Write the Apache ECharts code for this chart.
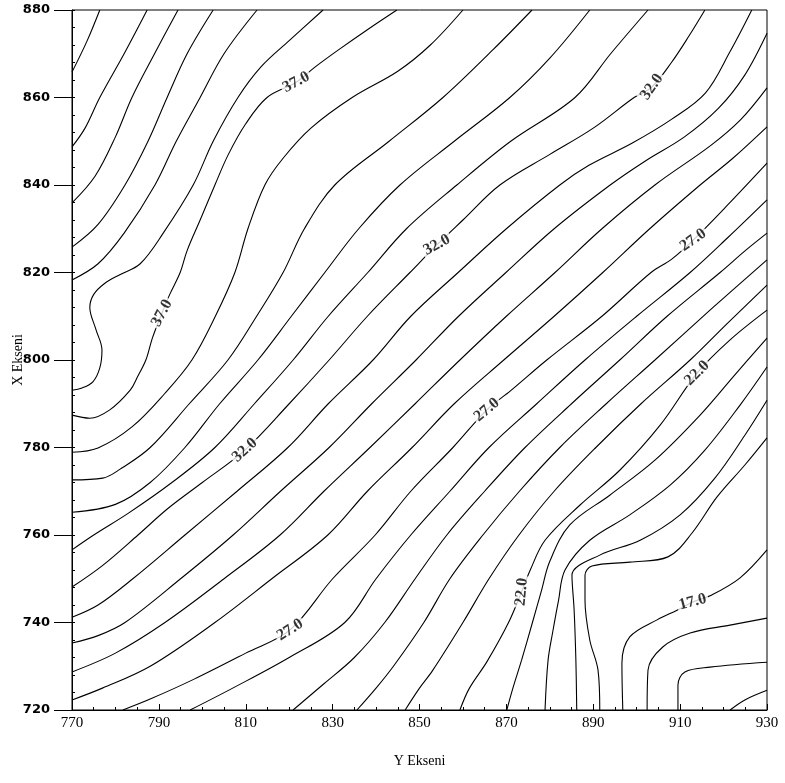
<!DOCTYPE html>
<html>
<head>
<meta charset="utf-8">
<script src="https://cdn.jsdelivr.net/npm/echarts@6/dist/echarts.min.js"></script>
<style>
  html, body { margin: 0; padding: 0; background: #ffffff; }
  #chart { width: 785px; height: 783px; }
</style>
</head>
<body>
<div id="chart"></div>
<script>
// Axis ranges (horizontal = "Y Ekseni", vertical = "X Ekseni")
const yEkseniRange = [770, 930];
const xEkseniRange = [720, 880];

// Contour polylines, one per level, as [Y Ekseni, X Ekseni] pairs
const c43 = [[776.4,880],[773.5,873],[770,865.8]];
const c42 = [[787.3,880],[782,870],[776.4,860],[773,853],[770,848.7]];
const c41 = [[794.4,880],[789,870],[783.8,860],[780,851],[775.3,842],[770,835.9]];
const c40 = [[802.5,880],[796.5,870],[791.9,860],[787.5,850],[782.2,840],[776,831],[770,825.8]];
const c39 = [[812.6,880],[805,870],[799.5,860],[794,850],[789.1,840],[782,829],[776,822],[770,818.3]];
const c38 = [[827.8,880],[820,873],[813.5,867],[808.2,860],[802.5,850],[797.9,840],[791,829],[785.7,822],[781,819.5],[777.5,817.5],[775,815],[774.1,812],[775.5,807],[776.9,802.3],[776.4,798.2],[774.8,795],[772.3,793.6],[770,793.1]];
const c37 = [[844.8,880],[838,875.5],[831.5,871],[826,867],[821.6,863.5],[814.9,860],[810,854],[806,847],[802.9,840],[799.5,832],[796.5,825],[794.9,820],[792.5,815],[790.7,810.7],[788.5,805],[787,800],[785,796],[783.4,793.1],[778.7,788.6],[774.1,786.7],[770,787.4]];
const c36 = [[860,880],[852.5,872],[845,866],[834.5,860],[825,853],[818.5,846],[814.4,840],[810.5,830],[807.5,820],[803,810],[797.6,800],[791.4,792.4],[783.8,784.7],[776,779.9],[770,778.9]];
const c35 = [[875.9,880],[867,871],[855.4,860],[843,850],[830.5,840],[823.5,830],[818.6,820],[812.5,810],[805.9,800],[797,790],[788,780],[781,775],[777.1,773],[770,772.6]];
const c34 = [[889.2,880],[880,869],[870.8,860],[858,850],[845.5,840],[836,830],[828.2,820],[820.5,810],[812.8,800],[804,790],[796,780],[788,772],[780,767],[770,765.2]];
const c33 = [[902.6,880],[894,870],[885.8,860],[871,850],[858.6,840],[847,830],[838.1,820],[829,810],[820.9,800],[812,790],[802.9,780],[793,772],[783,765],[775,760],[770,756.6]];
const c32 = [[915.7,880],[912,874],[908,868],[903.5,862.4],[899.4,860],[890,853],[880,847],[868.5,840],[860,832],[854,826.3],[847.8,820],[838,810],[829.2,800],[820,790],[809.8,779.4],[800,772],[792,766],[785.2,760],[777,753],[770,748.1]];
const c31 = [[926.5,880],[921.5,870.5],[915.8,861],[908,855],[899,849.6],[889,844.5],[882.3,840],[870,830],[858.9,820],[848,810],[839.3,800],[829,790],[819.7,780],[808,770],[796,760],[784,750],[776,744],[770,741.2]];
const c30 = [[930,874.7],[924.8,865],[918.8,857.5],[911,851],[902,845.5],[893.9,840],[881,830],[869.9,820],[859,810],[849.2,800],[839,790],[829.2,780],[818,770],[807.1,760],[795,750],[782.2,740],[776,737],[770,735.3]];
const c29 = [[930,862.2],[924,855],[917,849],[904.2,840],[892,830],[881.2,820],[870,810],[859.3,800],[849,790],[838.6,780],[828,770],[817.9,760],[805,750],[791.4,740],[780,733],[770,728.7]];
const c28 = [[930,853.3],[922,846],[914.6,840],[903,830],[892.2,820],[881,810],[869.4,800],[858,790],[848.3,780],[838,770],[828.9,760],[816,750],[802.9,740],[788,730],[777,725],[770,722.3]];
const c27 = [[930,845],[921,835.5],[913,827.4],[908,823],[903.3,820],[892,810],[879.3,800],[871,793],[865.5,788.6],[857.7,780],[848,770],[839.8,760],[830,750],[820.2,738.3],[810,733],[798,727],[788,722.5],[781.7,720]];
const c26 = [[930,836.6],[921,828],[912.3,820],[900,810],[888.1,800],[877,790],[866,780],[857,770],[848,760],[840,750],[832.8,740],[820,732],[807,725],[797.2,720]];
const c25 = [[930,829],[925,825],[919.2,820],[907,810],[896.1,800],[885,790],[874.3,780],[865,770],[856.3,760],[849,750],[842,740],[835,732],[828,726],[820.9,720]];
const c24 = [[930,822.9],[917,811.5],[904.2,800],[893,790],[882.3,780],[873,770],[864.6,760],[857,750],[851,740],[844,730],[840,725],[835.6,720]];
const c23 = [[930,817.1],[921,808.5],[912.3,800],[901,790],[890.6,780],[881,770],[872.9,760],[866,750],[860,740],[853,729],[850,725],[846.7,720]];
const c22 = [[930,811.4],[921.5,804.6],[913.9,797],[905.4,785.1],[896.1,774.8],[886.9,766.8],[878.9,758.8],[875.5,752],[873.5,747],[870.5,740],[865.5,731],[861.5,725],[859.3,720]];
const c21 = [[930,805],[922.6,796.6],[914.6,787.4],[904.2,777.1],[893.8,769.1],[884.6,762.3],[880,754],[878,747],[876,740],[873.5,731.4],[871.5,725],[870.1,720]];
const c20 = [[930,798.4],[923.8,789.7],[915.7,779.4],[907.7,771.4],[898.4,764.6],[889.2,758.8],[883.5,752],[882,745],[880.7,738],[879.6,731.4],[878.9,720]];
const c19 = [[930,790.8],[924.9,782.8],[918,773],[910,764.6],[900.8,758.8],[891.5,755.4],[885.1,750.8],[885.6,742.8],[886,731.4],[886.2,720]];
const c18 = [[930,782.2],[924.9,776],[918.5,768.7],[912.7,760.4],[907.2,755],[898.4,753.8],[889.7,752.9],[888.1,750.8],[888.1,745.1],[889.2,736],[891.1,729.1],[891.5,720]];
const c17 = [[930,756.6],[923.8,750.2],[917.3,746.3],[912.9,744.7],[909.3,742.8],[904.7,740.6],[898.4,736.7],[896.6,730.7],[896.8,720]];
const c16 = [[930,741],[921.5,739.4],[912.3,737.6],[906,734.4],[902.6,729.1],[902.4,720]];
const c15 = [[930,730.9],[916.9,729.8],[911.1,728.7],[909.5,725.7],[909.5,720]];
const c14 = [[930,724.5],[924.9,722.3],[921.5,720]];

const contourLevels = [43, 42, 41, 40, 39, 38, 37, 36, 35, 34, 33, 32, 31, 30, 29, 28, 27, 26, 25, 24, 23, 22, 21, 20, 19, 18, 17, 16, 15, 14];
const contourPaths = [c43, c42, c41, c40, c39, c38, c37, c36, c35, c34, c33, c32, c31, c30, c29, c28, c27, c26, c25, c24, c23, c22, c21, c20, c19, c18, c17, c16, c15, c14];

// Level labels placed on their contour: [level, Y Ekseni, X Ekseni]
const labelPoints = [
  [37, 821.6, 863.5], [37, 790.7, 810.7],
  [32, 903.5, 862.4], [32, 854.0, 826.3], [32, 809.8, 779.4],
  [27, 913.0, 827.4], [27, 865.5, 788.6], [27, 820.2, 738.3],
  [22, 913.9, 797.0], [22, 873.5, 747.0],
  [17, 912.9, 744.7]
];
// text angle of each label, following the line direction
const labelAngles = [28, 62, 55, 28, 42, 35, 40, 32, 45, 85, 15];

const serif = '"Liberation Serif", "Times New Roman", serif';

const lineSeries = contourPaths.map((path, i) => ({
  type: 'line',
  name: contourLevels[i].toFixed(1),
  data: path,
  smooth: 0.35,
  symbol: 'none',
  silent: true,
  clip: true,
  lineStyle: { color: '#000', width: 1.1 },
  z: 2
}));

const labelSeries = {
  type: 'scatter',
  silent: true,
  symbolSize: 0,
  z: 5,
  data: labelPoints.map((p, i) => ({
    value: [p[1], p[2]],
    label: { rotate: labelAngles[i] }
  })),
  label: {
    show: true,
    position: 'inside',
    formatter: (params) => labelPoints[params.dataIndex][0].toFixed(1),
    fontFamily: serif,
    fontWeight: 'bold',
    fontSize: 16,
    color: '#000',
    backgroundColor: '#fff',
    padding: [0, 2]
  }
};

const chart = echarts.init(document.getElementById('chart'));
chart.setOption({
  animation: false,
  backgroundColor: '#fff',
  grid: {
    left: 72, right: 18, top: 10, bottom: 73,
    containLabel: false, outerBoundsMode: 'none',
    show: true, borderColor: '#000', borderWidth: 1, backgroundColor: 'transparent'
  },
  xAxis: {
    type: 'value',
    min: yEkseniRange[0], max: yEkseniRange[1], interval: 20,
    name: 'Y Ekseni', nameLocation: 'middle', nameGap: 44, nameMoveOverlap: false,
    nameTextStyle: { fontFamily: serif, fontSize: 14, color: '#000' },
    axisLine: { show: true, lineStyle: { color: '#000', width: 1 } },
    axisTick: { show: true, inside: true, length: 6, lineStyle: { color: '#000' } },
    minorTick: { show: true, splitNumber: 4, length: 3, lineStyle: { color: '#000' } },
    axisLabel: { fontFamily: serif, fontSize: 15, color: '#000', margin: 6 },
    splitLine: { show: false }
  },
  yAxis: [{
    type: 'value',
    min: xEkseniRange[0], max: xEkseniRange[1], interval: 20,
    name: 'X Ekseni', nameLocation: 'middle', nameGap: 47, nameRotate: 90, nameMoveOverlap: false,
    nameTextStyle: { fontFamily: serif, fontSize: 14, color: '#000' },
    axisLine: { show: true, lineStyle: { color: '#000', width: 1 } },
    axisTick: { show: true, inside: false, length: 18, lineStyle: { color: '#000' } },
    axisLabel: { fontFamily: '"DejaVu Sans", sans-serif', fontSize: 13, fontWeight: 'bold', color: '#000', margin: 22 },
    splitLine: { show: false }
  }, {
    type: 'value',
    position: 'left',
    min: xEkseniRange[0], max: xEkseniRange[1], interval: 4,
    axisLine: { show: false },
    axisTick: { show: true, inside: true, length: 3, lineStyle: { color: '#000' } },
    axisLabel: { show: false },
    splitLine: { show: false }
  }],
  series: [...lineSeries, labelSeries]
});
</script>
</body>
</html>
